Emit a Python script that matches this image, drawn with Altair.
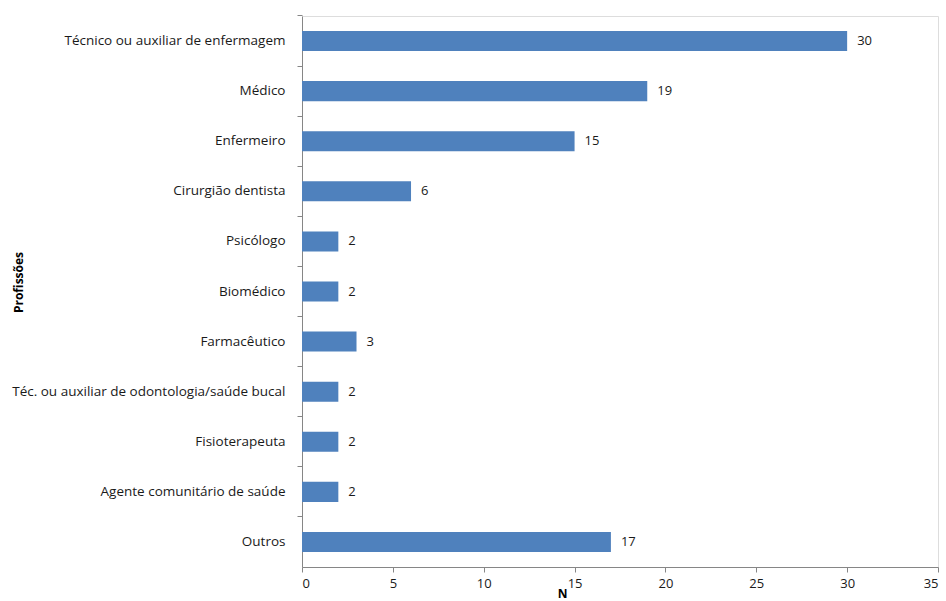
import altair as alt
import pandas as pd

categorias = [
    "Técnico ou auxiliar de enfermagem",
    "Médico",
    "Enfermeiro",
    "Cirurgião dentista",
    "Psicólogo",
    "Biomédico",
    "Farmacêutico",
    "Téc. ou auxiliar de odontologia/saúde bucal",
    "Fisioterapeuta",
    "Agente comunitário de saúde",
    "Outros",
]
valores = [30, 19, 15, 6, 2, 2, 3, 2, 2, 2, 17]
x_ticks = [0, 5, 10, 15, 20, 25, 30, 35]

df = pd.DataFrame({"prof": categorias, "n": valores})

FONT = "Open Sans"
BAR = "#4f81bd"
AXC = "#868686"
TXT = "#1a1a1a"

yscale = alt.Scale(domain=categorias, paddingInner=0.6, paddingOuter=0.3)
xscale = alt.Scale(domain=[0, 35], nice=False)

xaxis = alt.Axis(
    values=x_ticks, grid=False, domainColor=AXC, tickColor=AXC, tickSize=5,
    labelFont=FONT, labelFontSize=13, labelColor=TXT, labelPadding=5,
    title="N", titleFont=FONT, titleFontSize=12, titleFontWeight="bold",
    titleColor="#000000", titleX=260, titleY=21,
)

bars = alt.Chart(df).mark_bar(color=BAR).encode(
    x=alt.X("n:Q", scale=xscale, axis=xaxis),
    y=alt.Y("prof:N", sort=categorias, scale=yscale, axis=alt.Axis(
        ticks=False, domainColor=AXC, labelFont=FONT, labelFontSize=13.5,
        labelColor=TXT, labelPadding=17, labelLimit=400,
        title="Profissões", titleFont=FONT, titleFontSize=12,
        titleFontWeight="bold", titleColor="#000000",
        titleX=-284, titleY=266, titleAngle=270, titleBaseline="middle",
        titleAlign="center",
    )),
)

texts = alt.Chart(df).mark_text(
    align="left", baseline="middle", dx=10, font=FONT, fontSize=13, color=TXT
).encode(
    x=alt.X("n:Q", scale=xscale),
    y=alt.Y("prof:N", sort=categorias, scale=yscale, axis=alt.Axis(
        orient="left", labels=False, title=None, domain=False,
        tickColor=AXC, tickSize=5, bandPosition=-0.75,
    )),
    text="n:Q",
)

chart = alt.layer(bars, texts).resolve_axis(y="independent").properties(
    width=636, height=551,
    autosize=alt.AutoSizeParams(type="none"),
    padding={"left": 302, "top": 16, "right": 8, "bottom": 34},
).configure_view(strokeWidth=0, stroke="transparent").configure(background="white")

chart.save("out.html", embed_options={"renderer": "svg", "actions": False})
